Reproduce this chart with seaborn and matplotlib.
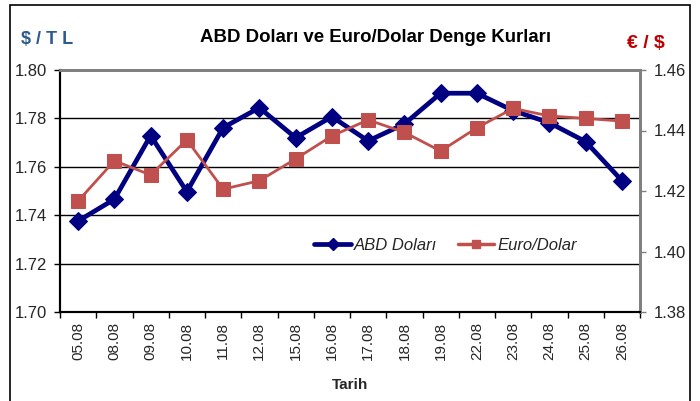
import matplotlib
matplotlib.use("Agg")
import matplotlib.pyplot as plt
from matplotlib.patches import Rectangle
from matplotlib.lines import Line2D
import seaborn as sns
import pandas as pd

dates = ["05.08", "08.08", "09.08", "10.08", "11.08", "12.08", "15.08", "16.08",
         "17.08", "18.08", "19.08", "22.08", "23.08", "24.08", "25.08", "26.08"]
abd_dolari = [1.7376, 1.7466, 1.7729, 1.7497, 1.7762, 1.7844, 1.7720, 1.7807,
              1.7707, 1.7777, 1.7904, 1.7904, 1.7832, 1.7782, 1.7704, 1.7543]
euro_dolar = [1.4167, 1.4300, 1.4253, 1.4369, 1.4206, 1.4234, 1.4306, 1.4382,
              1.4435, 1.4394, 1.4332, 1.4409, 1.4473, 1.4448, 1.4440, 1.4431]
left_ticks = [1.70, 1.72, 1.74, 1.76, 1.78, 1.80]
right_ticks = [1.38, 1.40, 1.42, 1.44, 1.46]

sns.set_theme(style="white")
plt.rcParams['font.family'] = ['Liberation Sans', 'DejaVu Sans']

df = pd.DataFrame({"Tarih": dates, "ABD": abd_dolari, "EUR": euro_dolar})

BLUE = "#000080"
RED = "#C0504D"

fig = plt.figure(figsize=(7.0, 4.01), dpi=100)
ax = fig.add_axes([60/700, 1-312/401, 580/700, 242/401])
ax2 = ax.twinx()

# gridlines
for v in left_ticks[1:-1]:
    ax.axhline(v, color="black", lw=1.0, zorder=0)

sns.lineplot(data=df, x="Tarih", y="ABD", ax=ax, color=BLUE, lw=3.4,
             marker="D", markersize=9.5, markeredgecolor=BLUE, sort=False, zorder=3)
sns.lineplot(data=df, x="Tarih", y="EUR", ax=ax2, color=RED, lw=2.0,
             marker="s", markersize=10, markeredgecolor=RED, sort=False, zorder=3)

n = len(dates)
ax.set_xlim(-0.5, n - 0.5)
ax.set_ylim(1.70, 1.80)
ax2.set_ylim(1.38, 1.46)
ax.set_yticks(left_ticks)
ax.set_yticklabels([f"{v:.2f}" for v in left_ticks])
ax2.set_yticks(right_ticks)
ax2.set_yticklabels([f"{v:.2f}" for v in right_ticks])

ax.set_xticks(range(n))
ax.set_xticklabels(dates, rotation=90, fontsize=11)
ax.set_xticks([i - 0.5 for i in range(n + 1)], minor=True)
ax.tick_params(axis="x", which="major", length=0, pad=7)
ax.tick_params(axis="x", which="minor", length=4, width=1, color="black", direction="out", bottom=True)
ax.tick_params(axis="y", length=4, width=1, color="black", direction="out", labelsize=12, pad=5, left=True)
ax2.tick_params(axis="y", length=4, width=1, color="#808080", direction="out", labelsize=12, pad=6, right=True)

ax.set_xlabel("Tarih", fontsize=11, fontweight="bold", labelpad=13)
ax.set_ylabel("")
ax2.set_ylabel("")

for a in (ax, ax2):
    a.spines["left"].set_color("black")
    a.spines["left"].set_linewidth(1.5)
    a.spines["bottom"].set_color("black")
    a.spines["bottom"].set_linewidth(1.5)
    a.spines["top"].set_color("#808080")
    a.spines["top"].set_linewidth(2)
    a.spines["right"].set_color("#808080")
    a.spines["right"].set_linewidth(2)
ax2.patch.set_visible(False)

handles = [Line2D([], [], color=BLUE, lw=3.4, marker="D", markersize=6),
           Line2D([], [], color=RED, lw=2.5, marker="s", markersize=6)]
leg = ax2.legend(handles, ["ABD Doları", "Euro/Dolar"], loc="center",
                 bbox_to_anchor=(0.665, 0.276), ncol=2, frameon=False,
                 prop={"style": "italic", "size": 12}, handlelength=2.2,
                 handletextpad=0.2, columnspacing=1.2)

fig.text(375/700, 1-38/401, "ABD Doları ve Euro/Dolar Denge Kurları", ha="center",
         va="center", fontsize=13.4, fontweight="bold", color="black")
fig.text(21/700, 1-40/401, "$ / T L", ha="left", va="center", fontsize=13,
         fontweight="bold", color="#2F5A8E")
fig.text(646/700, 1-43/401, "€ / $", ha="center", va="center", fontsize=14,
         fontweight="bold", color="#C00000")

fig.patches.append(Rectangle((10/700, -0.1), 680/700, 1.1 - 5/401,
                             transform=fig.transFigure, fill=False,
                             edgecolor="black", lw=1.2))

fig.savefig("out.png", dpi=100)
